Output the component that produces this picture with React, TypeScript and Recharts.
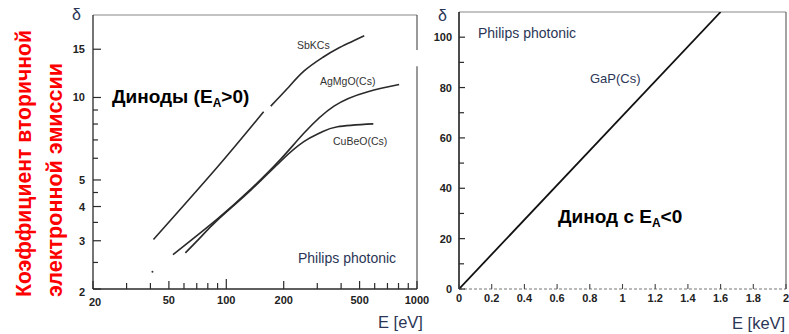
import React from 'react';
import { ComposedChart, LineChart, Line, XAxis, YAxis, ReferenceLine } from 'recharts';

// ---------- data (left panel, log-log, E in eV) ----------
const sbkcs = [
  { e: 41.5, d: 3.03 },
  { e: 89.6, d: 5.56 },
  { e: 157, d: 8.87 },
  { e: 164, d: null },
  { e: 171, d: 9.3 },
  { e: 209, d: 10.78 },
  { e: 256, d: 12.5 },
  { e: 320, d: 14.0 },
  { e: 384, d: 15.1 },
  { e: 529, d: 16.8 },
];
const agmgo = [
  { e: 52.5, d: 2.67 },
  { e: 89.6, d: 3.6 },
  { e: 134, d: 4.62 },
  { e: 193, d: 5.96 },
  { e: 255, d: 7.4 },
  { e: 367, d: 9.3 },
  { e: 553, d: 10.5 },
  { e: 806, d: 11.15 },
];
const cubeo = [
  { e: 61, d: 2.71 },
  { e: 73, d: 3.08 },
  { e: 89.6, d: 3.56 },
  { e: 134, d: 4.58 },
  { e: 193, d: 5.86 },
  { e: 255, d: 6.9 },
  { e: 313, d: 7.45 },
  { e: 383, d: 7.82 },
  { e: 590, d: 8.01 },
];
const strayDot = [{ e: 41, d: 2.31 }];

const leftXTicks = [20, 30, 40, 50, 60, 70, 80, 90, 100, 200, 300, 400, 500, 600, 700, 800, 900, 1000];
const leftXLabels = [20, 50, 100, 200, 500, 1000];
const leftYTicks = [2, 2.5, 3, 3.5, 4, 4.5, 5, 6, 7, 8, 9, 10, 15];
const leftYLabels = [2, 3, 4, 5, 10, 15];

// ---------- data (right panel, linear, E in keV) ----------
const gap = [
  { e: 0, d: 0 },
  { e: 1.6, d: 110 },
];
const rightXTicks = [0, 0.2, 0.4, 0.6, 0.8, 1, 1.2, 1.4, 1.6, 1.8, 2];
const rightXLabels = ['0', '0.2', '0.4', '0.6', '0.8', '1', '1.2', '1.4', '1.6', '1.8', '2'];
const rightYTicks = [0, 10, 20, 30, 40, 50, 60, 70, 80, 90, 100];
const rightYLabels = [0, 20, 40, 60, 80, 100];

const numFont = "'Liberation Sans', Arial, sans-serif";
const axisColor = '#2a2a2a';
const navy = '#2b3656';

const LeftXTick = (p: any) => {
  const { x, y, payload } = p;
  const v = payload.value;
  const major = leftXLabels.includes(v);
  const len = v === 100 ? 10 : major ? 8 : 6;
  return (
    <g>
      <line x1={x} x2={x} y1={y} y2={y - len} stroke={axisColor} strokeWidth={1.2} />
      {major && (
        <text x={v === 20 ? x + 2 : x} y={v === 20 ? y + 17 : y + 15} textAnchor="middle" fontSize={11} fontWeight={700} fill="#222" fontFamily={numFont}>
          {v}
        </text>
      )}
    </g>
  );
};

const LeftYTick = (p: any) => {
  const { x, y, payload } = p;
  const v = payload.value;
  const major = leftYLabels.includes(v);
  const len = major ? 8 : 5;
  return (
    <g>
      <line x1={x} x2={x + len} y1={y} y2={y} stroke={axisColor} strokeWidth={1.2} />
      {major && (
        <text x={x - 8} y={v === 2 ? y + 7 : y + 4} textAnchor="end" fontSize={11} fontWeight={700} fill="#222" fontFamily={numFont}>
          {v}
        </text>
      )}
    </g>
  );
};

const RightXTick = (p: any) => {
  const { x, y, payload, index } = p;
  return (
    <g>
      <line x1={x} x2={x} y1={y} y2={y - 5} stroke="#444" strokeWidth={1.1} />
      <text x={x} y={y + 12.5} textAnchor="middle" fontSize={11} fontWeight={700} fill="#222" fontFamily={numFont}>
        {rightXLabels[index] ?? payload.value}
      </text>
    </g>
  );
};

const RightYTick = (p: any) => {
  const { x, y, payload } = p;
  const v = payload.value;
  const major = rightYLabels.includes(v);
  return (
    <g>
      <line x1={x} x2={x + (major ? 6 : 5)} y1={y} y2={y} stroke={axisColor} strokeWidth={1.2} />
      {major && (
        <text x={x - 7} y={y + 4} textAnchor="end" fontSize={11} fontWeight={700} fill="#222" fontFamily={numFont}>
          {v}
        </text>
      )}
    </g>
  );
};

const lineStyle = { stroke: '#2a2a2a', strokeWidth: 1.6 };

export default function App() {
  return (
    <div style={{ position: 'absolute', left: 0, top: 0, width: 789, height: 334, background: '#fff', overflow: 'hidden' }}>
      <div style={{ position: 'absolute', left: 0, top: 0 }}>
        <ComposedChart width={430} height={334} margin={{ top: 15, right: 13, left: 0, bottom: 0 }}>
          <XAxis
            dataKey="e"
            type="number"
            scale="log"
            domain={[20, 1000]}
            allowDataOverflow
            ticks={leftXTicks}
            interval={0}
            tickSize={0}
            tickMargin={0}
            tickLine={false}
            height={45}
            axisLine={{ stroke: axisColor, strokeWidth: 1.3 }}
            tick={LeftXTick}
          />
          <YAxis
            dataKey="d"
            type="number"
            scale="log"
            domain={[2, 20]}
            allowDataOverflow
            ticks={leftYTicks}
            interval={0}
            tickSize={0}
            tickMargin={0}
            tickLine={false}
            width={93}
            axisLine={{ stroke: axisColor, strokeWidth: 1.3 }}
            tick={LeftYTick}
          />
          <ReferenceLine y={20} stroke="#888" strokeWidth={1.2} />
          <ReferenceLine segment={[{ x: 1000, y: 2 }, { x: 1000, y: 13 }]} stroke="#555" strokeWidth={1.2} />
          <ReferenceLine segment={[{ x: 1000, y: 14.9 }, { x: 1000, y: 20 }]} stroke="#555" strokeWidth={1.2} />
          <Line data={sbkcs} dataKey="d" type="natural" dot={false} isAnimationActive={false} {...lineStyle} />
          <Line data={agmgo} dataKey="d" type="natural" dot={false} isAnimationActive={false} {...lineStyle} />
          <Line data={cubeo} dataKey="d" type="natural" dot={false} isAnimationActive={false} {...lineStyle} />
          <Line data={strayDot} dataKey="d" dot={{ r: 1, fill: '#333', stroke: 'none' }} stroke="none" isAnimationActive={false} />
        </ComposedChart>
      </div>
      <div style={{ position: 'absolute', left: 430, top: 0 }}>
        <LineChart width={359} height={334} margin={{ top: 12, right: 3, left: 0, bottom: 0 }}>
          <XAxis
            dataKey="e"
            type="number"
            domain={[0, 2]}
            allowDataOverflow
            ticks={rightXTicks}
            interval={0}
            tickSize={0}
            tickMargin={0}
            tickLine={false}
            height={45}
            axisLine={{ stroke: '#777', strokeWidth: 1.2, strokeDasharray: '3 2' }}
            tick={RightXTick}
          />
          <YAxis
            dataKey="d"
            type="number"
            domain={[0, 110]}
            allowDataOverflow
            ticks={rightYTicks}
            interval={0}
            tickSize={0}
            tickMargin={0}
            tickLine={false}
            width={29}
            axisLine={{ stroke: '#111', strokeWidth: 1.5 }}
            tick={RightYTick}
          />
          <ReferenceLine y={110} stroke="#888" strokeWidth={1.2} />
          <ReferenceLine x={2} stroke="#666" strokeWidth={1.2} />
          <Line data={gap} dataKey="d" type="linear" dot={false} isAnimationActive={false} stroke="#111" strokeWidth={1.8} />
        </LineChart>
      </div>
      <svg width={789} height={334} style={{ position: 'absolute', left: 0, top: 0, pointerEvents: 'none' }}>
        <g fontFamily={numFont}>
          {/* red rotated title */}
          <text x={31} y={297} transform="rotate(-90 31 297)" fontSize={22} fontWeight={700} fill="#ff0000" textLength={267} lengthAdjust="spacingAndGlyphs">
            Коэффициент вторичной
          </text>
          <text x={62} y={297} transform="rotate(-90 62 297)" fontSize={22} fontWeight={700} fill="#ff0000" textLength={234} lengthAdjust="spacingAndGlyphs">
            электронной эмиссии
          </text>

          {/* left panel */}
          <text x={72} y={20} fontSize={16} fill={navy}>δ</text>
          <text x={297} y={49} fontSize={10.5} fill="#333">SbKCs</text>
          <text x={320} y={85} fontSize={10.5} fill="#333">AgMgO(Cs)</text>
          <text x={333} y={145} fontSize={10.5} fill="#333">CuBeO(Cs)</text>
          <text x={298} y={263} fontSize={14} fill={navy}>Philips photonic</text>
          <text x={378} y={328} fontSize={16.5} fill={navy}>E [eV]</text>
          <text x={112} y={103} fontSize={19} fontWeight={700} fill="#000">
            Диноды (E<tspan fontSize={12} dy={4}>A</tspan><tspan dy={-4}>&gt;0)</tspan>
          </text>

          {/* right panel */}
          <text x={438} y={21} fontSize={16} fill={navy}>δ</text>
          <text x={478} y={38} fontSize={14} fill={navy}>Philips photonic</text>
          <text x={590} y={83} fontSize={13} fill={navy}>GaP(Cs)</text>
          <text x={558} y={223} fontSize={19} fontWeight={700} fill="#000">
            Динод с E<tspan fontSize={12} dy={4}>A</tspan><tspan dy={-4}>&lt;0</tspan>
          </text>
          <text x={732} y={329} fontSize={16.5} fill={navy}>E [keV]</text>
        </g>
      </svg>
    </div>
  );
}
